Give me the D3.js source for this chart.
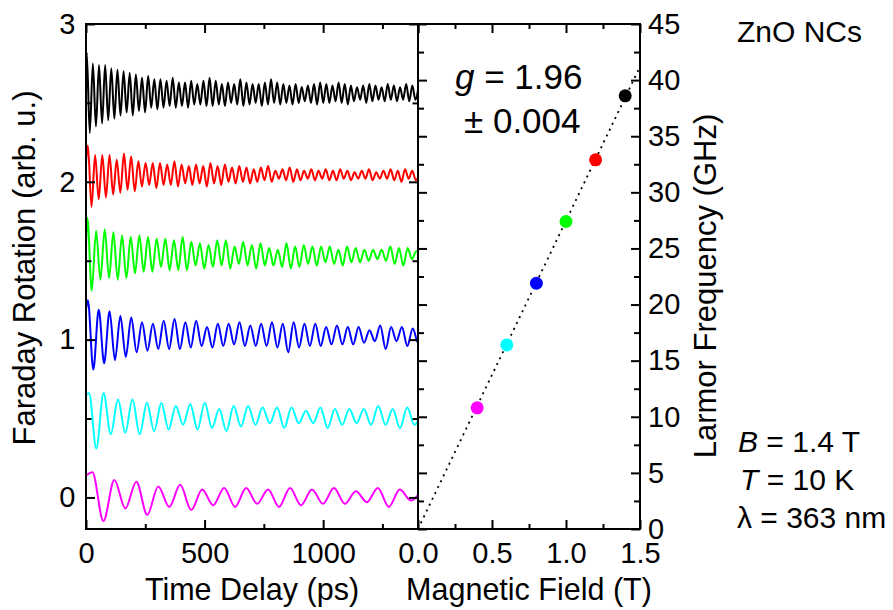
<!DOCTYPE html>
<html><head><meta charset="utf-8">
<script src="https://cdn.jsdelivr.net/npm/d3@7"></script>
<style>
body{margin:0;background:#fff}
svg{display:block}
text{font-family:"Liberation Sans",Arial,Helvetica,sans-serif;fill:#000}
</style>
</head><body>
<svg id="chart" width="893" height="610"></svg>
<script>
// ---------------- data ----------------
const fieldT = [0.4, 0.6, 0.8, 1.0, 1.2, 1.4];
const larmorGHz = [10.8, 16.4, 21.9, 27.4, 32.9, 38.6];
const fitB = [0, 1.5];
const fitGHz = [0, 41.2];

const traceNames = ["magenta", "cyan", "blue", "green", "red", "black"];
const traceStartValue = [0.14, 0.65, 1.19, 1.60, 2.12, 2.56];
const traceFirstExtremumPs = [27, 13, 8, 6, 8, 3];

const magentaExtrema = [0.16,-0.15, 0.11,-0.07, 0.10,-0.11, 0.07,-0.06, 0.08,-0.08, 0.05,-0.05, 0.06,-0.06, 0.06,-0.04, 0.05,-0.06, 0.06,-0.05,
  0.05,-0.04, 0.06,-0.04, 0.04,-0.03, 0.06,-0.06, 0.05,-0.02, 0.05];
const cyanExtrema = [0.66,0.31, 0.66,0.40, 0.62,0.41, 0.62,0.40, 0.60,0.42, 0.60,0.43, 0.58,0.46, 0.59,0.43, 0.60,0.44, 0.56,0.42,
  0.58,0.45, 0.58,0.46, 0.57,0.47, 0.57,0.44, 0.57,0.47, 0.55,0.47, 0.57,0.44, 0.56,0.46, 0.56,0.47, 0.56,0.46,
  0.58,0.46, 0.56,0.44, 0.57,0.46, 0.55];
const blueExtrema = [1.25,0.81, 1.19,0.85, 1.18,0.87, 1.15,0.89, 1.14,0.92, 1.11,0.93, 1.10,0.94, 1.12,0.94, 1.13,0.94, 1.11,0.95,
  1.12,0.96, 1.08,0.95, 1.10,0.96, 1.10,0.97, 1.11,0.96, 1.09,0.96, 1.10,0.96, 1.11,0.95, 1.10,0.92, 1.11,0.95,
  1.10,0.96, 1.10,0.96, 1.08,0.97, 1.09,0.97, 1.08,0.97, 1.08,0.98, 1.06,0.99, 1.09,0.94, 1.08,0.99, 1.08,0.96,
  1.07,0.98, 1.06];
const greenExtrema = [1.77,1.31, 1.69,1.38, 1.70,1.39, 1.68,1.38, 1.66,1.39, 1.65,1.42, 1.66,1.43, 1.65,1.43, 1.64,1.46, 1.64,1.44,
  1.63,1.44, 1.65,1.44, 1.62,1.47, 1.61,1.45, 1.60,1.46, 1.63,1.47, 1.63,1.45, 1.59,1.48, 1.62,1.47, 1.60,1.45,
  1.61,1.47, 1.58,1.47, 1.57,1.46, 1.61,1.45, 1.59,1.46, 1.60,1.48, 1.59,1.47, 1.59,1.49, 1.59,1.48, 1.57,1.47,
  1.59,1.49, 1.58,1.49, 1.57,1.50, 1.57,1.51, 1.57,1.50, 1.59,1.48, 1.58,1.47, 1.58,1.51, 1.56,1.50];
const redExtrema = [2.23,1.84, 2.17,1.89, 2.17,1.90, 2.17,1.92, 2.14,1.93, 2.18,1.95, 2.16,1.94, 2.13,1.97, 2.12,1.98, 2.12,1.96,
  2.12,1.98, 2.11,1.98, 2.13,1.97, 2.11,1.99, 2.10,1.98, 2.11,1.99, 2.10,1.97, 2.12,1.99, 2.10,1.98, 2.11,2.00,
  2.09,1.99, 2.10,2.00, 2.09,1.99, 2.08,2.00, 2.09,2.01, 2.10,2.00, 2.07,2.02, 2.08,2.01, 2.09,2.00, 2.08,2.01,
  2.07,2.02, 2.08,2.01, 2.07,2.02, 2.08,2.01, 2.07,2.01, 2.08,2.02, 2.07,2.01, 2.06,2.02, 2.07,2.02, 2.08,2.01,
  2.06,2.02, 2.07,2.02, 2.08,2.01, 2.07,2.00, 2.08,2.02, 2.07,2.01, 2.06];
const blackExtrema = [2.82,2.31, 2.75,2.35, 2.74,2.37, 2.74,2.39, 2.72,2.40, 2.71,2.42, 2.70,2.44, 2.69,2.42, 2.68,2.45, 2.66,2.44,
  2.67,2.47, 2.65,2.46, 2.65,2.47, 2.64,2.48, 2.66,2.47, 2.63,2.48, 2.63,2.47, 2.64,2.49, 2.62,2.49, 2.64,2.48,
  2.66,2.48, 2.64,2.49, 2.62,2.48, 2.63,2.50, 2.62,2.49, 2.65,2.48, 2.63,2.49, 2.62,2.50, 2.62,2.48, 2.63,2.49,
  2.65,2.50, 2.63,2.49, 2.62,2.50, 2.61,2.49, 2.62,2.50, 2.60,2.51, 2.61,2.50, 2.62,2.49, 2.63,2.50, 2.62,2.50,
  2.61,2.51, 2.63,2.50, 2.62,2.49, 2.61,2.51, 2.60,2.52, 2.61,2.50, 2.62,2.51, 2.61,2.52, 2.60,2.51, 2.62,2.52,
  2.61,2.51, 2.60,2.52, 2.62,2.51, 2.61,2.52, 2.60];
const traceExtrema = [magentaExtrema, cyanExtrema, blueExtrema, greenExtrema, redExtrema, blackExtrema];

const timeTicks = [0, 500, 1000];
const timeMinorTicks = [250, 750, 1250];
const rotTicks = [0, 1, 2, 3];
const rotMinorTicks = [0.5, 1.5, 2.5];
const fieldTicks = [0, 0.5, 1.0, 1.5];
const fieldMinorTicks = [0.25, 0.75, 1.25];
const freqTicks = [0, 5, 10, 15, 20, 25, 30, 35, 40, 45];
const freqMinorTicks = [2.5, 7.5, 12.5, 17.5, 22.5, 27.5, 32.5, 37.5, 42.5];

// ---------------- styles ----------------
const traceColors = {magenta:"#ff00ff", cyan:"#00ffff", blue:"#0000ff", green:"#00ff00", red:"#ff0000", black:"#000000"};

// ---------------- layout ----------------
const svg = d3.select("#chart");
const L = {x0:86, x1:418}, R = {x0:418, x1:640}, Y = {top:24, bottom:529};

const xL = d3.scaleLinear().domain([0, 1400]).range([L.x0, L.x1]);
const yL = d3.scaleLinear().domain([-0.2, 3]).range([Y.bottom, Y.top]);
const xR = d3.scaleLinear().domain([0, 1.5]).range([R.x0, R.x1]);
const yR = d3.scaleLinear().domain([0, 45]).range([Y.bottom, Y.top]);

svg.append("defs").append("clipPath").attr("id","clipL").append("rect")
  .attr("x", L.x0).attr("y", Y.top).attr("width", L.x1 - L.x0).attr("height", Y.bottom - Y.top);

// traces
const line = d3.line().x(d => xL(d[0])).y(d => yL(d[1])).curve(d3.curveMonotoneX);
traceNames.forEach((name, i) => {
  const half = 500 / larmorGHz[i];
  const pts = [[0, traceStartValue[i]]].concat(
    traceExtrema[i].map((v, k) => [traceFirstExtremumPs[i] + k * half, v]));
  svg.append("path").datum(pts)
    .attr("clip-path", "url(#clipL)")
    .attr("fill", "none").attr("stroke", traceColors[name])
    .attr("stroke-width", 2).attr("stroke-linejoin", "round")
    .attr("d", line);
});

// fit line
svg.append("path").datum(fitB.map((b, i) => [b, fitGHz[i]]))
  .attr("fill", "none").attr("stroke", "#000").attr("stroke-width", 1.8)
  .attr("stroke-dasharray", "2,4.5")
  .attr("d", d3.line().x(d => xR(d[0])).y(d => yR(d[1])));

// points
svg.selectAll("circle.pt").data(fieldT).join("circle").attr("class","pt")
  .attr("cx", d => xR(d)).attr("cy", (d, i) => yR(larmorGHz[i])).attr("r", 6.5)
  .attr("fill", (d, i) => traceColors[traceNames[i]]);

// axes helper
function addAxis(gen, tx, ty, fontSize) {
  const a = svg.append("g").attr("transform", `translate(${tx},${ty})`).call(gen);
  a.attr("font-size", null).attr("font-family", null);
  a.select(".domain").remove();
  a.selectAll("line").attr("stroke", "#000").attr("stroke-width", 2);
  a.selectAll("text").style("font-size", (fontSize || 29) + "px").attr("fill", "#000");
  return a;
}
const none = () => "";
// left panel
addAxis(d3.axisBottom(xL).tickValues(timeTicks).tickSize(-9).tickPadding(13).tickFormat(d3.format("d")), 0, Y.bottom);
addAxis(d3.axisBottom(xL).tickValues(timeMinorTicks).tickSize(-5).tickFormat(none), 0, Y.bottom);
addAxis(d3.axisTop(xL).tickValues(timeTicks.concat([1400])).tickSize(-9).tickFormat(none), 0, Y.top);
addAxis(d3.axisTop(xL).tickValues(timeMinorTicks).tickSize(-5).tickFormat(none), 0, Y.top);
addAxis(d3.axisLeft(yL).tickValues(rotTicks).tickSize(-9).tickPadding(10.5).tickFormat(d3.format("d")), L.x0, 0);
addAxis(d3.axisLeft(yL).tickValues(rotMinorTicks).tickSize(-5.5).tickFormat(none), L.x0, 0);
addAxis(d3.axisRight(yL).tickValues(rotTicks).tickSize(-9).tickFormat(none), L.x1, 0);
addAxis(d3.axisRight(yL).tickValues(rotMinorTicks).tickSize(-5.5).tickFormat(none), L.x1, 0);
// right panel
addAxis(d3.axisBottom(xR).tickValues(fieldTicks).tickSize(-9).tickPadding(13).tickFormat(d3.format(".1f")), 0, Y.bottom);
addAxis(d3.axisBottom(xR).tickValues(fieldMinorTicks).tickSize(-5).tickFormat(none), 0, Y.bottom);
addAxis(d3.axisTop(xR).tickValues(fieldTicks).tickSize(-9).tickFormat(none), 0, Y.top);
addAxis(d3.axisTop(xR).tickValues(fieldMinorTicks).tickSize(-5).tickFormat(none), 0, Y.top);
addAxis(d3.axisLeft(yR).tickValues(freqTicks).tickSize(-9).tickFormat(none), R.x0, 0);
addAxis(d3.axisLeft(yR).tickValues(freqMinorTicks).tickSize(-6).tickFormat(none), R.x0, 0);
addAxis(d3.axisRight(yR).tickValues(freqTicks).tickSize(-9).tickPadding(8).tickFormat(d3.format("d")), R.x1, 0);
addAxis(d3.axisRight(yR).tickValues(freqMinorTicks).tickSize(-6).tickFormat(none), R.x1, 0);

// frames
[[L.x0, L.x1], [R.x0, R.x1]].forEach(([a, b]) => {
  svg.append("rect").attr("x", a).attr("y", Y.top).attr("width", b - a).attr("height", Y.bottom - Y.top)
    .attr("fill", "none").attr("stroke", "#000").attr("stroke-width", 2);
});

// axis titles
svg.append("text").attr("x", (L.x0 + L.x1) / 2).attr("y", 600).attr("text-anchor", "middle")
  .style("font-size", "30.5px").text("Time Delay (ps)");
svg.append("text").attr("x", (R.x0 + R.x1) / 2).attr("y", 600).attr("text-anchor", "middle")
  .style("font-size", "30.5px").text("Magnetic Field (T)");
svg.append("text").attr("transform", "translate(35,268) rotate(-90)").attr("text-anchor", "middle")
  .style("font-size", "31px").text("Faraday Rotation (arb. u.)");
svg.append("text").attr("transform", "translate(716,286) rotate(-90)").attr("text-anchor", "middle")
  .style("font-size", "31px").text("Larmor Frequency (GHz)");

// annotations
const g1 = svg.append("text").attr("x", 455).attr("y", 89).style("font-size", "35px");
g1.append("tspan").style("font-style", "italic").text("g");
g1.append("tspan").text(" = 1.96");
svg.append("text").attr("x", 464).attr("y", 133).style("font-size", "35px").text("± 0.004");

svg.append("text").attr("x", 737).attr("y", 42).style("font-size", "30px").text("ZnO NCs");
const tB = svg.append("text").attr("x", 738).attr("y", 452).style("font-size", "30px");
tB.append("tspan").style("font-style", "italic").text("B");
tB.append("tspan").text(" = 1.4 T");
const tT = svg.append("text").attr("x", 740).attr("y", 490).style("font-size", "30px");
tT.append("tspan").style("font-style", "italic").text("T");
tT.append("tspan").text(" = 10 K");
svg.append("text").attr("x", 737).attr("y", 528).style("font-size", "30px").text("λ = 363 nm");
</script>
</body></html>
